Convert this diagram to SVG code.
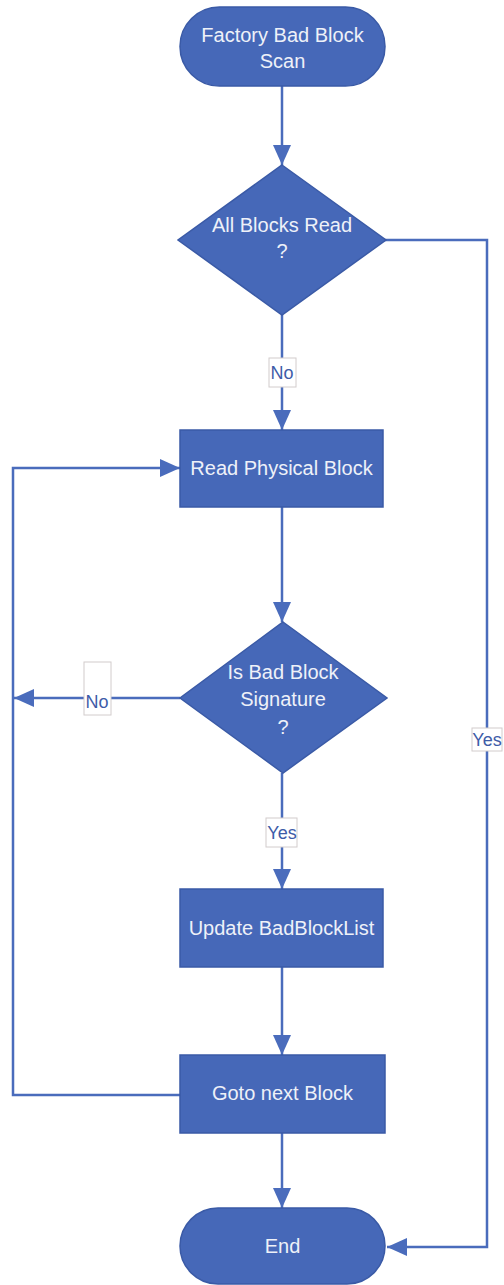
<svg xmlns="http://www.w3.org/2000/svg" width="504" height="1285" viewBox="0 0 504 1285">
<style>
.shape{fill:#4668B8;stroke:#3A5AA6;stroke-width:1.5}
.t{font-family:"Liberation Sans",Arial,sans-serif;font-size:20px;fill:#EEF1F8;text-anchor:middle}
.c{fill:none;stroke:#4A6CBC;stroke-width:2.5}
.lb{fill:#FFFFFF;stroke:#D2CCCC;stroke-width:1}
.lt{font-family:"Liberation Sans",Arial,sans-serif;font-size:18px;fill:#3E5CA8;text-anchor:middle}
</style>
<defs>
<marker id="ah" markerUnits="userSpaceOnUse" markerWidth="20" markerHeight="18" refX="20" refY="9" orient="auto">
<path d="M0,0 L20,9 L0,18 Z" fill="#4A6CBC"/>
</marker>
</defs>
<rect width="504" height="1285" fill="#FFFFFF"/>
<g id="connectors">
<path class="c" d="M282,86 V165" marker-end="url(#ah)"/>
<path class="c" d="M282,315 V430" marker-end="url(#ah)"/>
<path class="c" d="M383,240 H487 V1247 H387" marker-end="url(#ah)"/>
<path class="c" d="M282,507 V622" marker-end="url(#ah)"/>
<path class="c" d="M180,698 H14" marker-end="url(#ah)"/>
<path class="c" d="M282,773 V889" marker-end="url(#ah)"/>
<path class="c" d="M282,967 V1055" marker-end="url(#ah)"/>
<path class="c" d="M282,1133 V1208" marker-end="url(#ah)"/>
<path class="c" d="M180,1095 H13 V468 H180" marker-end="url(#ah)"/>
<g id="label-no-1"><rect class="lb" x="269" y="358" width="27" height="29"/><text class="lt" x="282" y="379">No</text></g>
<g id="label-no-2"><rect class="lb" x="84" y="662" width="27" height="53"/><text class="lt" x="97" y="708">No</text></g>
<g id="label-yes-1"><rect class="lb" x="472" y="728" width="30" height="23"/><text class="lt" x="487" y="746">Yes</text></g>
<g id="label-yes-2"><rect class="lb" x="266" y="818" width="31" height="29"/><text class="lt" x="282" y="839">Yes</text></g>
</g>
<g id="start">
<rect class="shape" x="180" y="7" width="205" height="79" rx="39.5"/>
<text class="t" x="282.5" y="42">Factory Bad Block</text>
<text class="t" x="282.5" y="68">Scan</text>
</g>
<g id="all-blocks-read">
<polygon class="shape" points="282,165 386,240 282,315 178,240"/>
<text class="t" x="282" y="232">All Blocks Read</text>
<text class="t" x="282" y="258">?</text>
</g>
<g id="read-physical-block">
<rect class="shape" x="180" y="430" width="203" height="77"/>
<text class="t" x="281.5" y="475">Read Physical Block</text>
</g>
<g id="is-bad-block">
<polygon class="shape" points="283,622 387,698 283,773 180,698"/>
<text class="t" x="283" y="679">Is Bad Block</text>
<text class="t" x="283" y="706">Signature</text>
<text class="t" x="283" y="734">?</text>
</g>
<g id="update-badblocklist">
<rect class="shape" x="180" y="889" width="203" height="78"/>
<text class="t" x="281.5" y="935">Update BadBlockList</text>
</g>
<g id="goto-next-block">
<rect class="shape" x="180" y="1055" width="205" height="78"/>
<text class="t" x="282.5" y="1100">Goto next Block</text>
</g>
<g id="end">
<rect class="shape" x="180" y="1208" width="205" height="76" rx="38"/>
<text class="t" x="282.5" y="1253">End</text>
</g>
</svg>
